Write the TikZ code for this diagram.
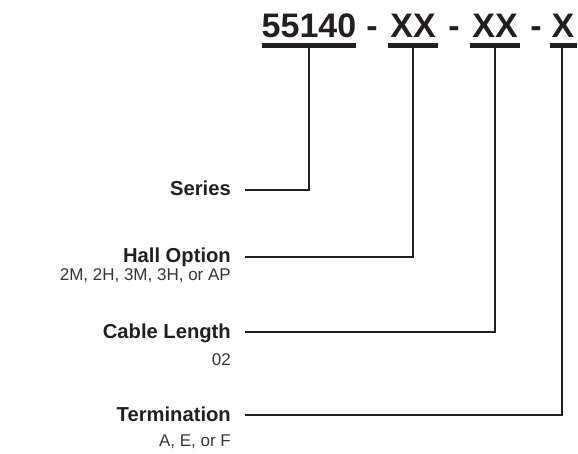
\documentclass[tikz,border=0pt]{standalone}
\usepackage{fontspec}
\setmainfont{Liberation Sans}
\definecolor{ink}{HTML}{231F20}
\begin{document}
\begin{tikzpicture}[x=1pt,y=-1pt,
  title/.style={font=\fontsize{34}{34}\selectfont\bfseries, text=ink, anchor=base, inner sep=0},
  bar/.style={fill=ink, draw=none, inner sep=0, minimum height=5pt},
  lab/.style={font=\fontsize{20.2}{20.2}\selectfont\bfseries, text=ink, anchor=base east, inner sep=0},
  sub/.style={font=\fontsize{17}{17}\selectfont, text=ink!90, anchor=base east, inner sep=0},
  conn/.style={draw=ink, line width=2pt}]
\useasboundingbox (0,0) rectangle (578,454);
% title
\node[title] (t1) at (309,38) {55140};
\node[title] (d1) at (372,38) {-};
\node[title] (t2) at (413,38) {XX};
\node[title] (d2) at (454,38) {-};
\node[title] (t3) at (495,38) {XX};
\node[title] (d3) at (536,38) {-};
\node[title] (t4) at (563,38) {X};
% bars
\node[bar, minimum width=94pt] (b1) at (309,45.5) {};
\node[bar, minimum width=50pt] (b2) at (413,45.5) {};
\node[bar, minimum width=50pt] (b3) at (495,45.5) {};
\node[bar, minimum width=27pt] (b4) at (563.5,45.5) {};
% labels
\node[lab] (l1) at (231,196) {Series};
\node[lab] (l2) at (231,263) {Hall Option};
\node[sub] (s2) at (231,280) {2M, 2H, 3M, 3H, or AP};
\node[lab] (l3) at (231,338) {Cable Length};
\node[sub] (s3) at (231,365) {02};
\node[lab] (l4) at (231,421) {Termination};
\node[sub] (s4) at (231,446) {A, E, or F};
% connector ends
\coordinate (e1) at (245,190);
\coordinate (e2) at (245,257);
\coordinate (e3) at (245,332);
\coordinate (e4) at (245,415);
\draw[conn] (b1.south) |- (e1);
\draw[conn] (b2.south) |- (e2);
\draw[conn] (b3.south) |- (e3);
\draw[conn] (b4.south -| 562,0) |- (e4);
\end{tikzpicture}
\end{document}
